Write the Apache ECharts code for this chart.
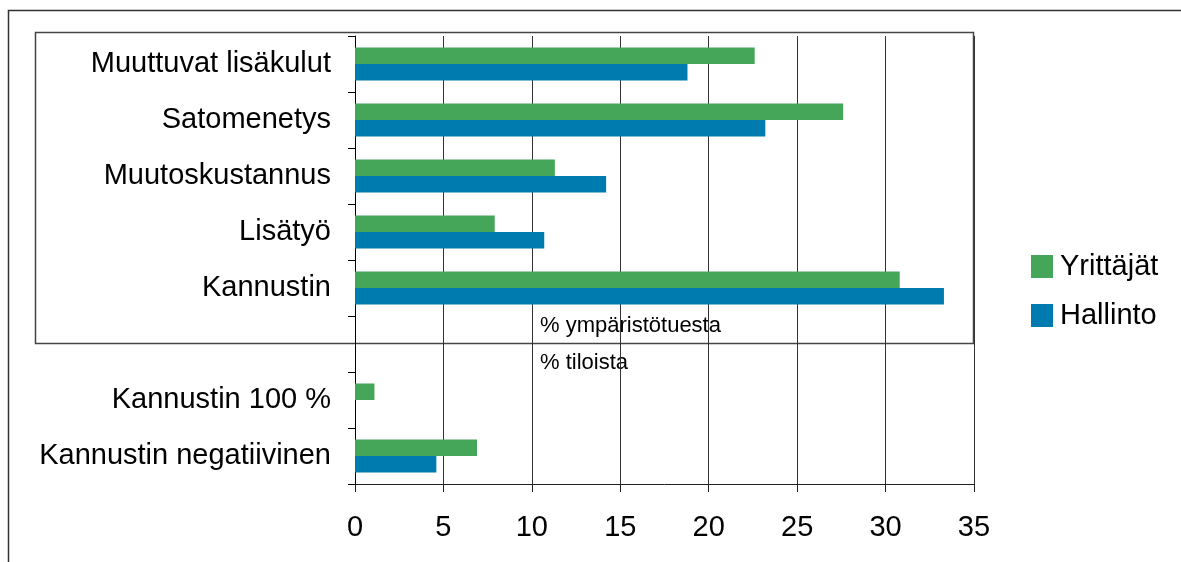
<!DOCTYPE html>
<html>
<head>
<meta charset="utf-8">
<script src="https://cdn.jsdelivr.net/npm/echarts@6/dist/echarts.min.js"></script>
<style>
    html, body { margin: 0; padding: 0; background: #fff; }
    #chart { width: 1181px; height: 562px; }
</style>
</head>
<body>
<div id="chart"></div>
<script>
var categories = [
    "Muuttuvat lisäkulut",
    "Satomenetys",
    "Muutoskustannus",
    "Lisätyö",
    "Kannustin",
    "",
    "Kannustin 100 %",
    "Kannustin negatiivinen",
];
var yrittajat = [22.6, 27.6, 11.3, 7.9, 30.8, null, 1.1, 6.9];
var hallinto = [18.8, 23.2, 14.2, 10.7, 33.3, null, null, 4.6];
var xTicks = [0, 35, 5];

var fontName = "Liberation Sans";
var green = "#45A65A";
var blue = "#007BB0";

var option = {
    animation: false,
    backgroundColor: "#fff",
    textStyle: {
        fontFamily: fontName,
    },
    grid: {
        left: 355,
        right: 207,
        top: 36,
        bottom: 78,
    },
    legend: {
        orient: "vertical",
        left: 1026,
        top: 247,
        itemWidth: 22,
        itemHeight: 23,
        itemGap: 20,
        icon: "rect",
        textStyle: {
            fontFamily: fontName,
            fontSize: 29,
            color: "#000",
            padding: [0, 0, 0, 2],
        },
        data: ["Yrittäjät", "Hallinto"],
    },
    xAxis: {
        type: "value",
        min: xTicks[0],
        max: xTicks[1],
        interval: xTicks[2],
        axisLine: {
            show: true,
            lineStyle: { color: "#222", width: 1 },
        },
        axisTick: {
            show: true,
            length: 8,
            lineStyle: { color: "#222" },
        },
        axisLabel: {
            fontFamily: fontName,
            fontSize: 29,
            color: "#000",
            margin: 29,
        },
        splitLine: {
            show: true,
            lineStyle: { color: "#333", width: 1 },
        },
    },
    yAxis: {
        type: "category",
        inverse: true,
        data: categories,
        axisLine: {
            show: true,
            lineStyle: { color: "#000", width: 1 },
        },
        axisTick: {
            show: true,
            length: 7,
            lineStyle: { color: "#000" },
        },
        axisLabel: {
            fontFamily: fontName,
            fontSize: 29,
            color: "#000",
            margin: 24,
        },
    },
    graphic: [
        {
            type: "rect",
            silent: true,
            shape: { x: 8.5, y: 10.5, width: 1400, height: 800 },
            style: { fill: null, stroke: "#333", lineWidth: 1.5 },
        },
        {
            type: "rect",
            silent: true,
            shape: { x: 35.5, y: 32.5, width: 938, height: 311 },
            style: { fill: null, stroke: "#444", lineWidth: 1.5 },
        },
        {
            type: "text",
            silent: true,
            left: 540,
            top: 315,
            style: {
                text: "% ympäristötuesta",
                fontFamily: fontName,
                fontSize: 22,
                fill: "#000",
            },
        },
        {
            type: "text",
            silent: true,
            left: 540,
            top: 352,
            style: {
                text: "% tiloista",
                fontFamily: fontName,
                fontSize: 22,
                fill: "#000",
            },
        },
    ],
    series: [
        {
            name: "Yrittäjät",
            type: "bar",
            barGap: "0%",
            barCategoryGap: "41%",
            itemStyle: { color: green },
            data: yrittajat,
        },
        {
            name: "Hallinto",
            type: "bar",
            barGap: "0%",
            barCategoryGap: "41%",
            itemStyle: { color: blue },
            data: hallinto,
        },
    ],
};

var myChart = echarts.init(document.getElementById("chart"));
option && myChart.setOption(option);
</script>
</body>
</html>
